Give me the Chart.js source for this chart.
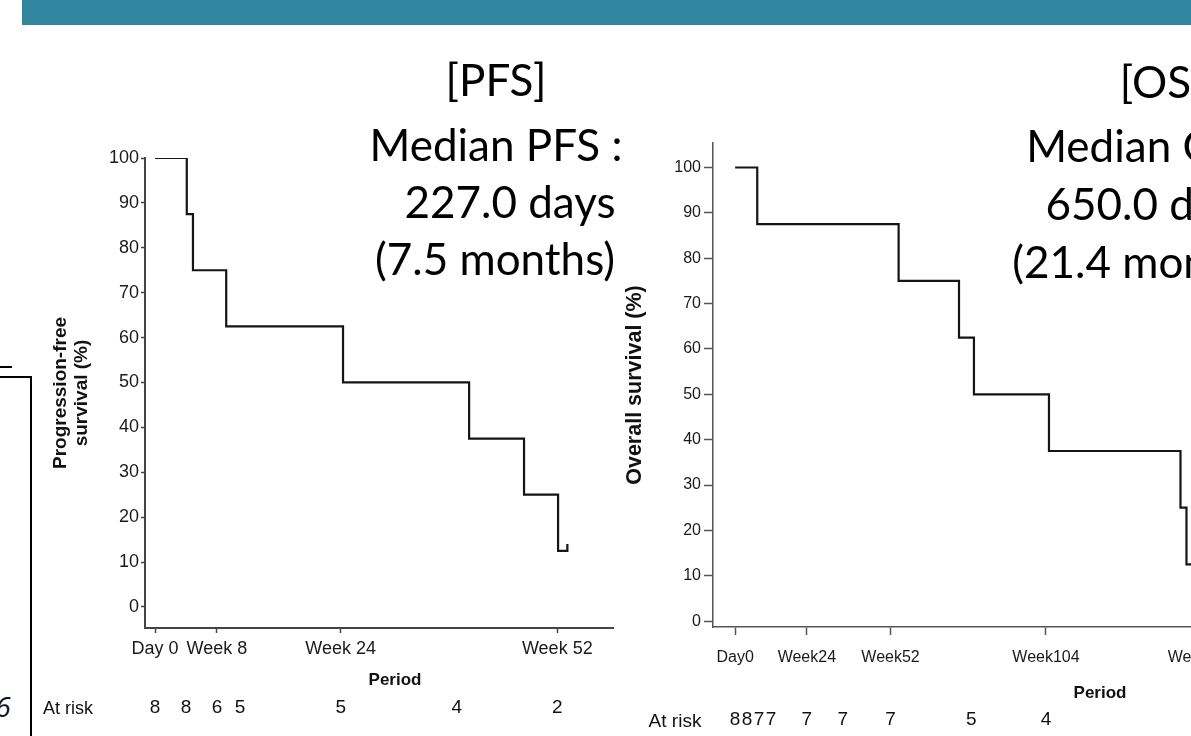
<!DOCTYPE html>
<html>
<head>
<meta charset="utf-8">
<script src="https://cdn.jsdelivr.net/npm/chart.js@4.4.1/dist/chart.umd.min.js"></script>
<style>
  html, body { margin: 0; padding: 0; overflow: hidden; background: #fff; }
  body { width: 1191px; height: 736px; position: relative; }
  .box { position: absolute; }
  .t { position: absolute; white-space: pre; transform: translate(-50%, -50%); line-height: 1; color: #111; }
  .big { font-family: Lato, "Open Sans", sans-serif; font-size: 44px; color: #000; }
  .lab { font-family: "Liberation Sans", Arial, sans-serif; }
</style>
</head>
<body>

<div class="box" style="left:22px;top:0;width:1169px;height:25px;background:#31869f"></div>
<div class="box" style="left:-2px;top:376px;width:32px;height:400px;border-top:2px solid #000;border-right:2px solid #000"></div>
<div class="box" style="left:0;top:366px;width:12px;height:2px;background:#000"></div>
<div class="t" style="left:3px;top:706px;font-family:'Open Sans',sans-serif;font-style:italic;font-size:28px">6</div>

<div class="box" style="left:0;top:0;width:640px;height:736px"><canvas id="pfs" width="640" height="736"></canvas></div>
<div class="box" style="left:600px;top:0;width:660px;height:736px"><canvas id="os" width="660" height="736"></canvas></div>

<div class="t big" style="left:496px;top:79px">[PFS]</div>
<div class="t big" style="left:496px;top:144px">Median PFS :</div>
<div class="t big" style="left:510px;top:201px">227.0 days</div>
<div class="t big" style="left:495px;top:258px">(7.5 months)</div>

<div class="t big" style="left:1162px;top:81px">[OS]</div>
<div class="t big" style="left:1145px;top:145px">Median OS :</div>
<div class="t big" style="left:1151px;top:203px">650.0 days</div>
<div class="t big" style="left:1145px;top:261px">(21.4 months)</div>

<div class="t lab" style="left:395px;top:679px;font-size:17px;font-weight:bold">Period</div>
<div class="t lab" style="left:68px;top:708px;font-size:18px">At risk</div>
<div class="t lab" style="left:1100px;top:692px;font-size:17px;font-weight:bold">Period</div>
<div class="t lab" style="left:675px;top:720px;font-size:19px">At risk</div>

<script>
// PFS curve (weeks, %)
const pfsWeeks = [0, 4.1, 4.9, 9.2, 24.3, 40.6, 47.7, 52.1, 53.3];
const pfsSurvival = [100, 87.5, 75, 62.5, 50, 37.5, 25, 12.5, 14];
const pfsTickWeeks = [0, 8, 24, 52];
const pfsTickLabels = ["Day 0", "Week 8", "Week 24", "Week 52"];
const pfsRiskWeeks = [0, 4, 8, 11, 24, 39, 52];
const pfsRiskCounts = [8, 8, 6, 5, 5, 4, 2];

// OS curve (weeks, %)
const osWeeks = [0, 7.4, 54.7, 74.9, 79.9, 105, 149, 151, 175];
const osSurvival = [100, 87.5, 75, 62.5, 50, 37.5, 25, 12.5, 12.5];
const osTickWeeks = [0, 24, 52, 104, 156];
const osTickLabels = ["Day0", "Week24", "Week52", "Week104", "Week156"];
const osRiskWeeks = [0, 4, 8, 12, 24, 36, 52, 79, 104];
const osRiskCounts = [8, 8, 7, 7, 7, 7, 7, 5, 4];

const yTicks = [0, 10, 20, 30, 40, 50, 60, 70, 80, 90, 100];

function atRisk(weeks, counts, y, size) {
  return {
    id: "atRisk",
    afterDraw(chart) {
      const ctx = chart.ctx, x = chart.scales.x;
      ctx.save();
      ctx.font = size + 'px "Liberation Sans", Arial, sans-serif';
      ctx.fillStyle = "#111";
      ctx.textAlign = "center";
      ctx.textBaseline = "middle";
      weeks.forEach((w, i) => ctx.fillText(String(counts[i]), x.getPixelForValue(w), y));
      ctx.restore();
    }
  };
}

function kmChart(id, o) {
  const pts = o.weeks.map((w, i) => ({ x: w, y: o.surv[i] }));
  return new Chart(document.getElementById(id), {
    type: "line",
    data: { datasets: [{ data: pts, stepped: true, borderColor: "#151515", borderWidth: 2.2, pointRadius: 0, fill: false }] },
    options: {
      responsive: false,
      animation: false,
      layout: { padding: o.padding },
      plugins: { legend: { display: false }, tooltip: { enabled: false } },
      scales: {
        x: {
          type: "linear",
          min: o.xMin, max: o.xMax,
          afterBuildTicks: s => { s.ticks = o.tickWeeks.map(v => ({ value: v })); },
          afterFit: s => { s.height = o.xHeight; },
          ticks: {
            autoSkip: false, maxRotation: 0, padding: o.xPad, color: "#1a1a1a",
            font: { family: '"Liberation Sans", Arial, sans-serif', size: o.tickSize },
            callback: v => o.tickLabels[o.tickWeeks.indexOf(v)]
          },
          grid: { drawOnChartArea: false, drawTicks: true, tickLength: o.xTickLen, tickColor: o.axisColor, tickWidth: 1.5 },
          border: { color: o.axisColor, width: o.axisWidth }
        },
        y: {
          min: o.yMin, max: o.yMax,
          afterBuildTicks: s => { s.ticks = yTicks.map(v => ({ value: v })); },
          afterFit: s => { s.width = o.yWidth; },
          ticks: {
            padding: o.yPad, color: "#1a1a1a",
            font: { family: '"Liberation Sans", Arial, sans-serif', size: o.tickSize }
          },
          grid: { drawOnChartArea: false, drawTicks: true, tickLength: o.yTickLen, tickColor: o.axisColor, tickWidth: 1.5 },
          border: { color: o.axisColor, width: o.axisWidth },
          title: {
            display: true, text: o.yTitle, color: "#111",
            font: { family: '"Liberation Sans", Arial, sans-serif', size: o.titleSize, weight: "bold", lineHeight: 1.1 },
            padding: { top: o.titlePad, bottom: 0 }
          }
        }
      }
    },
    plugins: [atRisk(o.riskWeeks, o.riskCounts, o.riskY, o.riskSize)]
  });
}

kmChart("pfs", {
  weeks: pfsWeeks, surv: pfsSurvival,
  tickWeeks: pfsTickWeeks, tickLabels: pfsTickLabels,
  riskWeeks: pfsRiskWeeks, riskCounts: pfsRiskCounts, riskY: 708, riskSize: 19,
  xMin: -1.3, xMax: 59.2, yMin: -4.7, yMax: 100,
  padding: { left: 0, top: 158, right: 27, bottom: 0 },
  yWidth: 145, xHeight: 108,
  tickSize: 18, xPad: 5, yPad: 2, xTickLen: 5, yTickLen: 4,
  axisColor: "#444", axisWidth: 2,
  yTitle: ["Progression-free", "survival (%)"], titleSize: 19, titlePad: 50
});

kmChart("os", {
  weeks: osWeeks, surv: osSurvival,
  tickWeeks: osTickWeeks, tickLabels: osTickLabels,
  riskWeeks: osRiskWeeks, riskCounts: osRiskCounts, riskY: 720, riskSize: 19,
  xMin: -7.4, xMax: 175.6, yMin: -1.3, yMax: 105.4,
  padding: { left: 0, top: 143, right: 0, bottom: 0 },
  yWidth: 113, xHeight: 109,
  tickSize: 16, xPad: 13, yPad: 3, xTickLen: 8, yTickLen: 9,
  axisColor: "#555", axisWidth: 1.5,
  yTitle: "Overall survival (%)", titleSize: 21.5, titlePad: 23
});
</script>
</body>
</html>
